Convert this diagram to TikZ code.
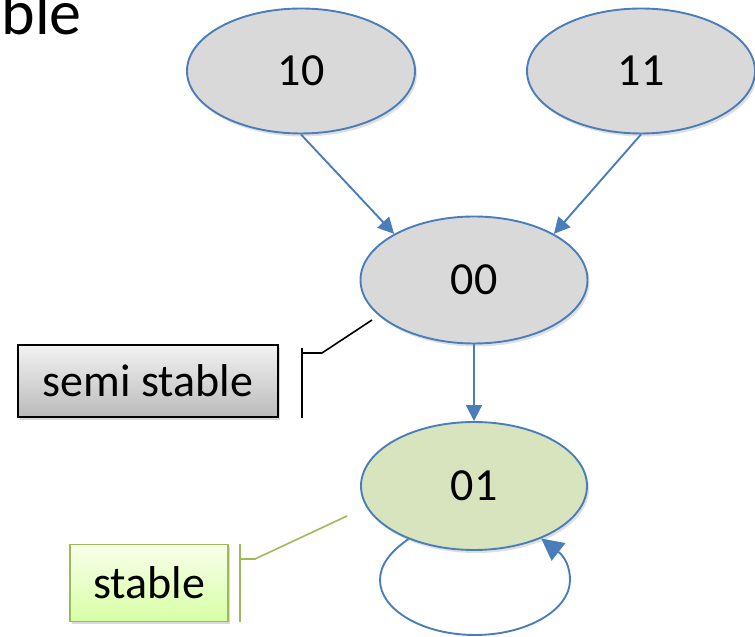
\documentclass[tikz,border=0pt]{standalone}
\usepackage{fontspec}
\setmainfont{Carlito}
\usetikzlibrary{shapes.geometric,arrows.meta,shadows}
\definecolor{nodeblue}{HTML}{4A7EBB}
\definecolor{nodegray}{HTML}{D9D9D9}
\definecolor{nodegreen}{HTML}{D7E4BD}
\definecolor{calgreen}{HTML}{9BBB59}
\begin{document}
\begin{tikzpicture}[x=1pt,y=1pt,
  state/.style={ellipse,draw=nodeblue,line width=1.9pt,fill=nodegray,inner sep=0pt,
    minimum width=228pt,minimum height=125pt,font=\fontsize{46}{52}\selectfont,
    drop shadow={shadow xshift=2pt,shadow yshift=-3pt,opacity=0.25}},
  conn/.style={draw=nodeblue,line width=1.9pt,-{Triangle[length=16pt,width=16pt]}},
  callbox/.style={rectangle,inner sep=0pt,font=\fontsize{46}{52}\selectfont,
    drop shadow={shadow xshift=2pt,shadow yshift=-3pt,opacity=0.3}},
  calline/.style={line width=1.6pt}]
\useasboundingbox (0,0) rectangle (755,637);
\node[anchor=base east,font=\fontsize{64}{70}\selectfont,inner sep=0pt] (title) at (82,602) {ble};
\node[state] (n10) at (301,566) {10};
\node[state] (n11) at (641,566) {11};
\node[state,minimum width=227pt,minimum height=127pt] (n00) at (474,357) {00};
\node[state,minimum width=226pt,minimum height=128pt,fill=nodegreen] (n01) at (474,151) {01};
\draw[conn] (n10.south) -- (n00.150);
\draw[conn] (n11.south) -- (n00.30);
\draw[conn] (n00.south) -- (n01.north);
\draw[conn,-{Triangle[length=22pt,width=22pt]}] (n01.219) .. controls (390,85) and (380,72) .. (380,57)
  .. controls (380,27) and (423,2) .. (475,2)
  .. controls (527,2) and (570,27) .. (570,57)
  .. controls (570,70) and (565,80) .. (n01.322);
% semi stable callout
\node[callbox,draw=black,line width=1.4pt,top color=white!95!black,bottom color=black!27,
  minimum width=260pt,minimum height=72pt] (semi) at (148,256) {semi stable};
\coordinate (sbt) at (302,289);
\coordinate (sbb) at (302,219);
\coordinate (sk) at (322,284);
\coordinate (sp) at (372,317);
\draw[calline] (sbt) -- (sbb);
\draw[calline] (302,284) -- (sk) -- (sp);
% stable callout
\node[callbox,draw=calgreen,line width=1.6pt,top color=green!30!yellow!8,bottom color=green!45!yellow!35,
  minimum width=158pt,minimum height=77pt] (stab) at (149,54) {stable};
\coordinate (gbt) at (240,93);
\coordinate (gbb) at (240,15);
\coordinate (gk) at (255,78);
\coordinate (gp) at (347,121);
\draw[calline,draw=calgreen] (gbt) -- (gbb);
\draw[calline,draw=calgreen] (240,78) -- (gk) -- (gp);
\end{tikzpicture}
\end{document}
